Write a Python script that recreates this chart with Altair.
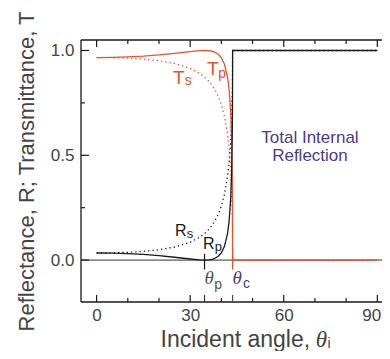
import altair as alt
import pandas as pd

# ---- data (glass -> air, n = 1.45) ----
angle = [0, 5, 10, 15, 20, 25, 30, 33, 34.6, 36, 37, 38, 39, 40, 41, 42,
         42.5, 43, 43.3, 43.5, 43.55, 43.59, 43.6, 90]
Rs = [0.0337, 0.0345, 0.0369, 0.0414, 0.0491, 0.0620, 0.0850, 0.1085, 0.1264,
      0.1469, 0.1654, 0.1887, 0.2184, 0.2580, 0.3142, 0.4005, 0.4672, 0.5688,
      0.6700, 0.7912, 0.8447, 0.9199, 1.0, 1.0]
Rp = [0.0337, 0.0330, 0.0307, 0.0268, 0.0211, 0.0136, 0.0051, 0.0009, 0.0,
      0.0010, 0.0036, 0.0087, 0.0180, 0.0347, 0.0656, 0.1282, 0.1878, 0.2968,
      0.4266, 0.6100, 0.7009, 0.8390, 1.0, 1.0]
Ts = [0.9663, 0.9655, 0.9631, 0.9586, 0.9509, 0.9380, 0.9150, 0.8915, 0.8736,
      0.8531, 0.8346, 0.8113, 0.7816, 0.7420, 0.6858, 0.5995, 0.5328, 0.4312,
      0.3300, 0.2088, 0.1553, 0.0801, 0.0, 0.0]
Tp = [0.9663, 0.9670, 0.9693, 0.9732, 0.9789, 0.9864, 0.9949, 0.9991, 1.0,
      0.9990, 0.9964, 0.9913, 0.9820, 0.9653, 0.9344, 0.8718, 0.8122, 0.7032,
      0.5734, 0.3900, 0.2991, 0.1610, 0.0, 0.0]

x_major_ticks = [0, 30, 60, 90]
x_minor_ticks = [10, 20, 40, 50, 70, 80]
y_major_ticks = [0.0, 0.5, 1.0]
y_minor_ticks = [0.25, 0.75]
theta_p = 34.6
theta_c = 43.6

RED = "#e8502e"
NAVY = "#4b3b8c"
INK = "#1a1a1a"
GRAY = "#444444"
SANS = "Liberation Sans"
SERIF = "Liberation Serif"

W, H = 301, 262

xs = alt.Scale(domain=[-5, 91.5], nice=False, zero=False)
ys = alt.Scale(domain=[-0.2, 1.05], nice=False, zero=False)

X = alt.X("x:Q", scale=xs,
          axis=alt.Axis(values=x_major_ticks, format="d", title=None,
                        labelPadding=5, labelFontSize=17,
                        labelOffset={"condition": {"test": "datum.value === 90", "value": -6},
                                     "value": 0}))
Y = alt.Y("y:Q", scale=ys,
          axis=alt.Axis(values=y_major_ticks, format=".1f", labelPadding=7,
                        labelFontSize=17,
                        title="Reflectance, R; Transmittance, T",
                        titleFontSize=22, titleFontWeight="normal",
                        titleColor=GRAY, titleFont=SANS,
                        titleX=-48, titleY=H / 2, titleAngle=270,
                        titleAlign="center", titleBaseline="alphabetic"))

n = len(angle)
curves = pd.DataFrame({
    "x": angle * 4,
    "y": Rs + Rp + Ts + Tp,
    "series": ["Rs"] * n + ["Rp"] * n + ["Ts"] * n + ["Tp"] * n,
})

# frame (left, top, bottom) — right edge lies outside the picture
frame = [
    alt.Chart(pd.DataFrame({"k": [0]})).mark_rule(color=INK, strokeWidth=1.3).encode(
        x=alt.value(0), y=alt.value(0), y2=alt.value(H)),
    alt.Chart(pd.DataFrame({"k": [0]})).mark_rule(color=INK, strokeWidth=1.3).encode(
        y=alt.value(0), x=alt.value(0), x2=alt.value(W)),
    alt.Chart(pd.DataFrame({"k": [0]})).mark_rule(color=INK, strokeWidth=1.3).encode(
        y=alt.value(H), x=alt.value(0), x2=alt.value(W)),
]

# zero line
zero = alt.Chart(pd.DataFrame({"y": [0.0]})).mark_rule(
    color="#333333", strokeWidth=1).encode(
    y=Y, x=alt.value(0), x2=alt.value(W))

dotted = alt.Chart(curves).transform_filter(
    alt.FieldOneOfPredicate(field="series", oneOf=["Rs", "Ts"])
).mark_line(strokeWidth=1.3, strokeDash=[1.3, 3]).encode(
    x=X, y=Y,
    color=alt.Color("series:N", scale=alt.Scale(domain=["Rs", "Ts"], range=[INK, RED]), legend=None),
    detail="series:N")

solid_red = alt.Chart(curves).transform_filter(
    alt.FieldEqualPredicate(field="series", equal="Tp")
).mark_line(strokeWidth=1.3, color=RED).encode(x=X, y=Y)

solid_black = alt.Chart(curves).transform_filter(
    alt.FieldEqualPredicate(field="series", equal="Rp")
).mark_line(strokeWidth=1.3, color=INK).encode(x=X, y=Y)

# angle markers below zero line
markers = alt.Chart(pd.DataFrame({
    "x": [theta_p, theta_c], "y": [0.03, 0.03], "y2": [-0.045, -0.045],
    "c": ["p", "c"]})).mark_rule(strokeWidth=1.2).encode(
    x=X, y=Y, y2="y2:Q",
    color=alt.Color("c:N", scale=alt.Scale(domain=["p", "c"], range=["#333333", NAVY]), legend=None))

# inward tick marks
def xticks(vals, y0, y1, color=INK):
    return alt.Chart(pd.DataFrame({"x": vals})).mark_rule(
        color=color, strokeWidth=1.2).encode(x=X, y=alt.value(y0), y2=alt.value(y1))

def yticks(vals, x0, x1):
    return alt.Chart(pd.DataFrame({"y": vals})).mark_rule(
        color=INK, strokeWidth=1.2).encode(y=Y, x=alt.value(x0), x2=alt.value(x1))

ticks = [
    xticks(x_major_ticks, H, H - 7),
    xticks(x_minor_ticks, H, H - 4),
    xticks([theta_p], H, H - 7, "#333333"),
    xticks([theta_c], H, H - 7, NAVY),
    xticks(x_major_ticks, 0, 7),
    xticks(x_minor_ticks, 0, 4),
    yticks(y_major_ticks, 0, 8),
    yticks(y_minor_ticks, 0, 4),
]

def text_layer(df, size, color, font=SANS, style="normal", align="left"):
    return alt.Chart(df).mark_text(
        fontSize=size, color=color, font=font, fontStyle=style,
        align=align, baseline="alphabetic").encode(x=X, y=Y, text="t:N")

texts = [
    text_layer(pd.DataFrame({"t": ["T", "T"], "x": [24.5, 35.4], "y": [0.840, 0.883]}), 19, RED),
    text_layer(pd.DataFrame({"t": ["s", "p"], "x": [28.3, 39.0], "y": [0.833, 0.869]}), 14, RED),
    text_layer(pd.DataFrame({"t": ["R", "R"], "x": [25.1, 34.1], "y": [0.115, 0.0505]}), 16, INK),
    text_layer(pd.DataFrame({"t": ["s", "p"], "x": [28.9, 37.9], "y": [0.105, 0.043]}), 13, INK),
    text_layer(pd.DataFrame({"t": ["θ"], "x": [34.6], "y": [-0.1165]}), 19, "#555555", SERIF, "italic"),
    text_layer(pd.DataFrame({"t": ["p"], "x": [37.7], "y": [-0.138]}), 14, "#555555"),
    text_layer(pd.DataFrame({"t": ["θ"], "x": [43.6], "y": [-0.1165]}), 19, NAVY, SERIF, "italic"),
    text_layer(pd.DataFrame({"t": ["c"], "x": [46.9], "y": [-0.133]}), 14, NAVY),
    text_layer(pd.DataFrame({"t": ["Total Internal", "Reflection"], "x": [68.4, 68.4],
                             "y": [0.5586, 0.4727]}), 17, NAVY, align="center"),
    text_layer(pd.DataFrame({"t": ["Incident angle,"], "x": [20.5], "y": [-0.4147]}), 23, GRAY),
    text_layer(pd.DataFrame({"t": ["θ"], "x": [70.3], "y": [-0.4147]}), 23, GRAY, SERIF, "italic"),
    text_layer(pd.DataFrame({"t": ["i"], "x": [74.0], "y": [-0.4195]}), 14, GRAY),
]

chart = alt.layer(zero, dotted, solid_red, solid_black, markers, *frame, *ticks, *texts).properties(
    width=W, height=H,
    autosize=alt.AutoSizeParams(type="none"),
    padding={"left": 73, "top": 32, "right": 0, "bottom": 49},
).configure_view(strokeWidth=0).configure_axis(
    grid=False, domain=False, ticks=False, tickSize=0,
    labelFont=SANS, labelColor=GRAY,
)

chart.save("out.html", embed_options={"renderer": "svg", "actions": False})
